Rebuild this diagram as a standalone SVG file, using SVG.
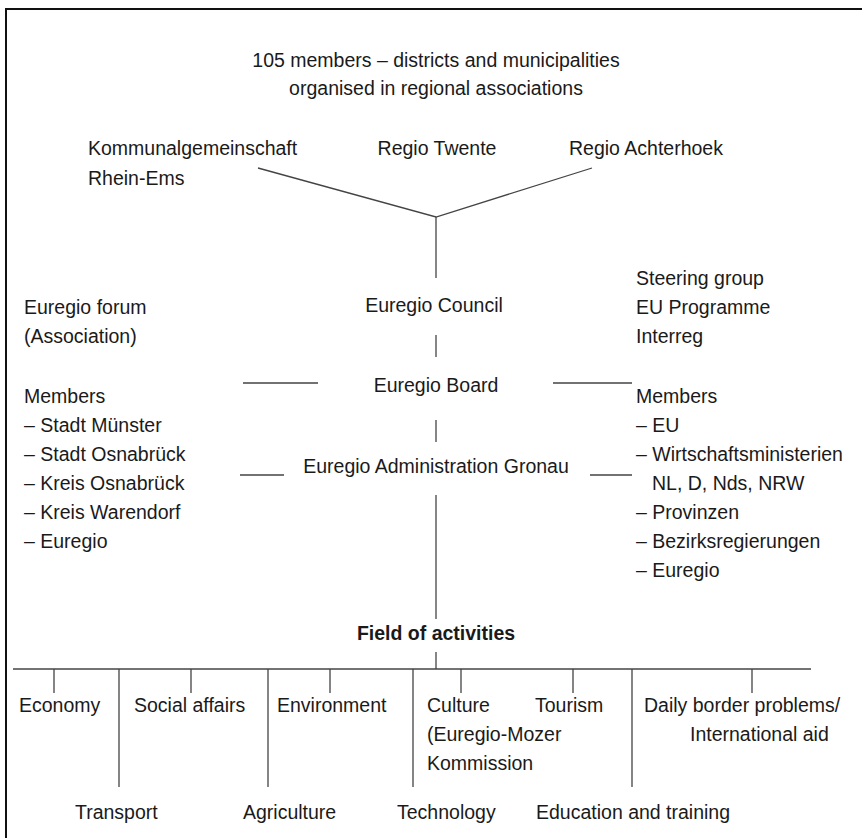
<svg xmlns="http://www.w3.org/2000/svg" width="862" height="838" viewBox="0 0 862 838">
<style>
text{font-family:"Liberation Sans",Arial,sans-serif;font-size:19.5px;fill:#1a1a1a}
.c{text-anchor:middle}
.b{font-weight:bold}
.ln{stroke:#444;stroke-width:1.3;fill:none}
</style>
<rect width="862" height="838" fill="#fff"/>
<path d="M6,838 V9 H862" stroke="#111" stroke-width="2" fill="none"/>
<g id="connectors" class="ln">
<path d="M258,168 L436,217 L592,168"/>
<path d="M436,217 V278"/>
<path d="M436,335 V357"/>
<path d="M436,420 V442"/>
<path d="M436,495 V619"/>
<path d="M436,652 V669"/>
<path d="M243,383 H318 M553,383 H632"/>
<path d="M240,475 H284 M590,475 H632"/>
<path d="M13,669 H811"/>
<path d="M54,669 V693 M191,669 V693 M330,669 V693 M461,669 V693 M573,669 V693 M752,669 V693"/>
<path d="M119,669 V787 M268,669 V787 M413,669 V787 M632,669 V787"/>
</g>
<g id="members"><text class="c" x="436" y="67">105 members – districts and municipalities</text><text class="c" x="436" y="95">organised in regional associations</text></g>
<g id="kommunal"><text x="88" y="155">Kommunalgemeinschaft</text><text x="88" y="185">Rhein-Ems</text></g>
<g id="twente"><text class="c" x="437" y="155">Regio Twente</text></g>
<g id="achterhoek"><text x="569" y="155">Regio Achterhoek</text></g>
<g id="council"><text class="c" x="434" y="312">Euregio Council</text></g>
<g id="forum"><text x="24" y="314">Euregio forum</text><text x="24" y="343">(Association)</text>
<text x="24" y="403">Members</text><text x="24" y="432">– Stadt Münster</text><text x="24" y="461">– Stadt Osnabrück</text><text x="24" y="490">– Kreis Osnabrück</text><text x="24" y="519">– Kreis Warendorf</text><text x="24" y="548">– Euregio</text></g>
<g id="steering"><text x="636" y="285">Steering group</text><text x="636" y="314">EU Programme</text><text x="636" y="343">Interreg</text>
<text x="636" y="403">Members</text><text x="636" y="432">– EU</text><text x="636" y="461">– Wirtschaftsministerien</text><text x="652" y="490">NL, D, Nds, NRW</text><text x="636" y="519">– Provinzen</text><text x="636" y="548">– Bezirksregierungen</text><text x="636" y="577">– Euregio</text></g>
<g id="board"><text class="c" x="436" y="392">Euregio Board</text></g>
<g id="admin"><text class="c" x="436" y="473">Euregio Administration Gronau</text></g>
<g id="field"><text class="c b" x="436" y="640">Field of activities</text></g>
<g id="economy"><text x="19" y="712">Economy</text></g>
<g id="social"><text x="134" y="712">Social affairs</text></g>
<g id="environment"><text x="277" y="712">Environment</text></g>
<g id="culture"><text x="427" y="712">Culture</text><text x="427" y="741">(Euregio-Mozer</text><text x="427" y="770">Kommission</text></g>
<g id="tourism"><text x="535" y="712">Tourism</text></g>
<g id="daily"><text x="644" y="712">Daily border problems/</text><text x="690" y="741">International aid</text></g>
<g id="transport"><text x="75" y="819">Transport</text></g>
<g id="agriculture"><text x="243" y="819">Agriculture</text></g>
<g id="technology"><text x="397" y="819">Technology</text></g>
<g id="education"><text x="536" y="819">Education and training</text></g>
</svg>
